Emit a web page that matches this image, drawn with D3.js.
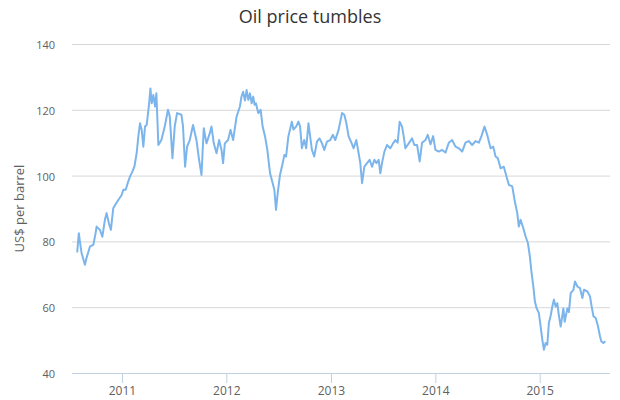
<!DOCTYPE html>
<html>
<head>
<meta charset="utf-8">
<script src="https://cdn.jsdelivr.net/npm/d3@7"></script>
<style>
  html, body { margin: 0; padding: 0; background: #fff; }
  svg { display: block; font-family: "Open Sans", "Noto Sans", sans-serif; }
</style>
</head>
<body>
<svg id="chart" width="620" height="400"></svg>
<script>
// ---- Data ----
const chartTitle = "Oil price tumbles";
const yAxisTitle = "US$ per barrel";
const yTickValues = [40, 60, 80, 100, 120, 140];
const xTickYears = [2011, 2012, 2013, 2014, 2015];

// time as decimal year
const yearFrac = [
  2010.572, 2010.587, 2010.597, 2010.613, 2010.645, 2010.661, 2010.693, 2010.726, 2010.748, 2010.757,
  2010.789, 2010.812, 2010.837, 2010.853, 2010.875, 2010.894, 2010.917, 2010.933, 2010.965, 2010.997,
  2011.013, 2011.036, 2011.055, 2011.077, 2011.100, 2011.119, 2011.141, 2011.157, 2011.173, 2011.189,
  2011.205, 2011.221, 2011.237, 2011.259, 2011.273, 2011.285, 2011.301, 2011.317, 2011.330, 2011.349,
  2011.378, 2011.410, 2011.441, 2011.458, 2011.484, 2011.506, 2011.528, 2011.570, 2011.585, 2011.605,
  2011.624, 2011.650, 2011.681, 2011.714, 2011.739, 2011.762, 2011.784, 2011.810, 2011.842, 2011.858,
  2011.880, 2011.906, 2011.931, 2011.954, 2011.969, 2011.986, 2012.017, 2012.040, 2012.065, 2012.098,
  2012.130, 2012.145, 2012.161, 2012.178, 2012.194, 2012.210, 2012.226, 2012.242, 2012.257, 2012.270,
  2012.283, 2012.305, 2012.328, 2012.347, 2012.370,
  2012.392, 2012.418, 2012.443, 2012.459, 2012.475, 2012.491, 2012.513, 2012.539, 2012.555, 2012.571,
  2012.593, 2012.626, 2012.641, 2012.667, 2012.689, 2012.705, 2012.722, 2012.744, 2012.763, 2012.785,
  2012.801, 2012.818, 2012.840, 2012.866, 2012.891, 2012.914, 2012.936, 2012.962, 2012.993, 2013.019,
  2013.041, 2013.073, 2013.106, 2013.128, 2013.147, 2013.169, 2013.192, 2013.217, 2013.243, 2013.265,
  2013.281, 2013.298, 2013.320, 2013.346, 2013.370, 2013.394, 2013.416, 2013.435, 2013.457, 2013.473,
  2013.489, 2013.512, 2013.537, 2013.569, 2013.595, 2013.617, 2013.639, 2013.658, 2013.681, 2013.697,
  2013.713, 2013.745, 2013.777, 2013.799, 2013.825, 2013.850, 2013.873, 2013.905, 2013.927, 2013.953,
  2013.979, 2014.001, 2014.033, 2014.065, 2014.097, 2014.129, 2014.161, 2014.193, 2014.225, 2014.257,
  2014.289, 2014.321, 2014.353, 2014.385, 2014.417, 2014.442, 2014.471, 2014.497, 2014.529, 2014.555,
  2014.577, 2014.599, 2014.625, 2014.656, 2014.682, 2014.704, 2014.737, 2014.759, 2014.785, 2014.800,
  2014.817, 2014.843, 2014.865, 2014.887, 2014.906, 2014.922, 2014.939, 2014.954, 2014.970, 2014.992,
  2015.009, 2015.025, 2015.040, 2015.057, 2015.073, 2015.088, 2015.105, 2015.121, 2015.136, 2015.153,
  2015.169, 2015.184, 2015.201, 2015.227, 2015.239, 2015.265, 2015.280, 2015.297, 2015.323, 2015.338,
  2015.361, 2015.386, 2015.409, 2015.424, 2015.457, 2015.482, 2015.498, 2015.515, 2015.537, 2015.559,
  2015.578, 2015.591, 2015.610, 2015.623
];

// US$ per barrel
const price = [
  76.9, 82.5, 80.0, 76.5, 72.9, 75.0, 78.4, 79.0, 82.6, 84.5,
  83.5, 81.4, 86.6, 88.6, 85.5, 83.5, 90.1, 91.0, 92.6, 94.1,
  95.7, 95.7, 97.7, 99.7, 101.2, 102.7, 106.8, 111.9, 115.9, 113.9,
  108.8, 114.9, 115.4, 121.5, 126.5, 122.0, 124.5, 121.0, 125.0, 109.3,
  110.8, 114.9, 120.0, 118.0, 105.3, 115.0, 119.0, 118.5, 115.0, 102.7,
  108.8, 110.8, 115.4, 110.8, 104.8, 100.2, 114.4, 109.8, 112.9, 114.9,
  109.8, 106.8, 110.8, 107.8, 103.8, 109.8, 110.8, 113.9, 110.8, 117.9,
  121.0, 124.0, 125.5, 122.8, 126.0, 123.0, 125.0, 122.0, 124.0, 121.5,
  122.0, 119.0, 120.0, 114.9, 111.9,
  107.8, 100.7, 97.7, 95.7, 89.6, 94.7, 100.2, 103.8, 106.3, 105.8,
  111.9, 116.4, 114.0, 114.9, 116.4, 114.9, 108.3, 110.8, 108.3, 115.9,
  111.9, 107.8, 105.8, 110.3, 111.3, 109.8, 107.8, 110.3, 110.8, 112.4,
  110.8, 113.9, 119.0, 118.5, 116.0, 111.9, 110.3, 108.3, 110.8, 106.8,
  103.8, 97.7, 102.7, 103.8, 104.8, 102.7, 104.8, 103.8, 104.8, 100.7,
  103.8, 107.3, 109.3, 108.3, 109.8, 110.8, 110.0, 116.4, 114.9, 111.9,
  108.3, 109.8, 111.3, 109.3, 109.3, 104.3, 110.0, 110.8, 112.4, 109.5,
  112.0, 107.8, 107.3, 107.8, 107.0, 110.0, 110.8, 108.8, 108.3, 107.3,
  110.0, 110.5, 109.3, 110.5, 110.0, 112.0, 114.9, 112.4, 108.3, 108.8,
  105.8, 105.3, 102.2, 102.7, 99.7, 97.2, 96.7, 92.6, 88.6, 84.5,
  86.6, 84.0, 81.5, 79.5, 75.4, 70.4, 66.3, 61.7, 59.7, 58.2,
  54.1, 50.1, 47.1, 49.1, 48.6, 55.2, 57.4, 60.2, 62.3, 60.2,
  61.2, 57.4, 54.1, 59.6, 55.6, 59.6, 58.5, 64.3, 65.3, 67.8,
  66.3, 65.8, 62.8, 65.3, 64.8, 63.3, 60.2, 57.2, 56.7, 54.1,
  51.1, 49.6, 49.1, 49.5
];

// ---- Helpers ----
function fracToDate(v) {
  const y = Math.floor(v);
  const a = Date.UTC(y, 0, 1), b = Date.UTC(y + 1, 0, 1);
  return new Date(a + (v - y) * (b - a));
}
const data = yearFrac.map((t, i) => ({ date: fracToDate(t), value: price[i] }));

// ---- Layout ----
const plotLeft = 72, plotRight = 610, plotTop = 44, plotBottom = 373;

const svg = d3.select("#chart");

const tMin = d3.min(data, d => +d.date), tMax = d3.max(data, d => +d.date);
const pad = (tMax - tMin) * 0.01;
const x = d3.scaleUtc()
  .domain([new Date(tMin - pad), new Date(tMax + pad)])
  .range([plotLeft, plotRight]);

const y = d3.scaleLinear()
  .domain([d3.min(yTickValues), d3.max(yTickValues)])
  .range([plotBottom, plotTop]);

// Title
svg.append("text")
  .attr("x", 310).attr("y", 23)
  .attr("text-anchor", "middle")
  .attr("font-size", 18)
  .attr("fill", "#333333")
  .text(chartTitle);

// Y axis (grid + labels)
const yAxis = d3.axisLeft(y)
  .tickValues(yTickValues)
  .tickSize(-(plotRight - plotLeft))
  .tickPadding(17)
  .tickFormat(d3.format("d"));

const yg = svg.append("g")
  .attr("transform", `translate(${plotLeft},0)`)
  .call(yAxis);
yg.select(".domain").remove();
yg.selectAll(".tick line").attr("stroke", "#d8d8d8").attr("stroke-width", 1);
yg.selectAll(".tick text")
  .attr("fill", "#606060")
  .attr("font-size", 11)
  .attr("font-family", "'Open Sans', 'Noto Sans', sans-serif")
  .attr("dy", "0.4em");

// Y axis title
svg.append("text")
  .attr("transform", `translate(24,${(plotTop + plotBottom) / 2}) rotate(-90)`)
  .attr("text-anchor", "middle")
  .attr("font-size", 13)
  .attr("fill", "#606060")
  .text(yAxisTitle);

// X axis
const xAxis = d3.axisBottom(x)
  .tickValues(xTickYears.map(yr => new Date(Date.UTC(yr, 0, 1))))
  .tickSize(10)
  .tickPadding(3)
  .tickFormat(d3.utcFormat("%Y"));

const xg = svg.append("g")
  .attr("transform", `translate(0,${plotBottom})`)
  .call(xAxis);
xg.select(".domain")
  .attr("stroke", "#c0d0e0")
  .attr("d", `M${plotLeft},0.5H${plotRight}`);
xg.selectAll(".tick line").attr("stroke", "#c0d0e0");
xg.selectAll(".tick text")
  .attr("fill", "#606060")
  .attr("font-size", 12)
  .attr("font-family", "'Open Sans', 'Noto Sans', sans-serif");

// Line
const line = d3.line()
  .x(d => x(d.date))
  .y(d => y(d.value));

svg.append("path")
  .datum(data)
  .attr("fill", "none")
  .attr("stroke", "#7cb5ec")
  .attr("stroke-width", 2)
  .attr("stroke-linejoin", "round")
  .attr("stroke-linecap", "round")
  .attr("d", line);
</script>
</body>
</html>
